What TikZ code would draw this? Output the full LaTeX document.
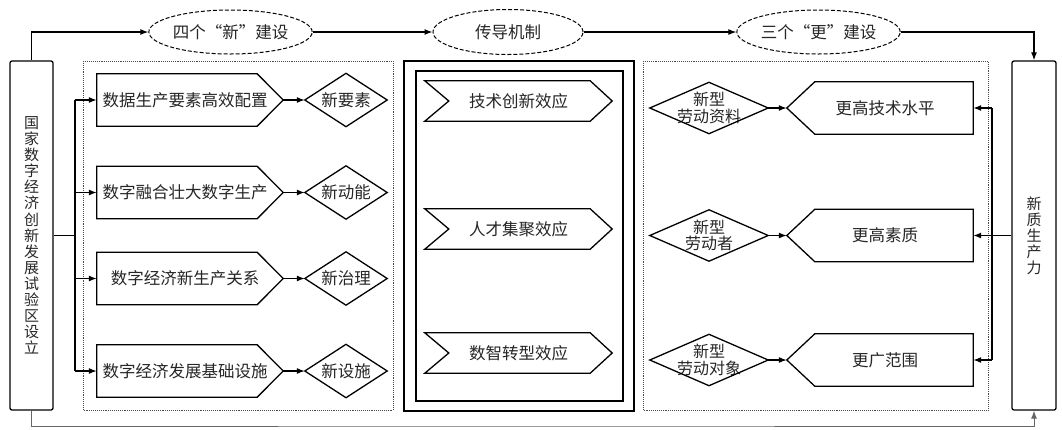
\documentclass[tikz,border=0pt]{standalone}
\usepackage{fontspec}
\setmainfont{Noto Sans CJK SC}
\usetikzlibrary{arrows.meta,shapes.geometric}
\tikzset{
  x=1pt, y=-1pt,
  every node/.style={font=\fontsize{16.5}{17}\selectfont, text=black!85},
  blk/.style 2 args={rectangle, inner sep=0pt, minimum width=#1, minimum height=#2},
  tall/.style={draw, line width=1.3pt, rounded corners=2pt, inner sep=0pt,
    minimum width=43, minimum height=349, align=center,
    font=\fontsize{15}{16.1}\selectfont},
  oval/.style={ellipse, draw, line width=1pt, dash pattern=on 4pt off 2pt,
    inner sep=0pt, minimum width=148, minimum height=44},
  shp/.style={draw, line width=1.3pt, line join=miter},
  frame/.style={draw=black!70, line width=0.9pt, densely dotted},
  conn/.style={draw, line width=1.2pt},
  arr/.style={conn, -{Latex[length=8pt,width=6pt]}},
}
\newcommand\pentRight[2]{\draw[shp] (#1.north west) -- ([xshift=-#2]#1.north east) -- (#1.east) -- ([xshift=-#2]#1.south east) -- (#1.south west) -- cycle;}
\newcommand\pentLeft[2]{\draw[shp] (#1.north east) -- ([xshift=#2]#1.north west) -- (#1.west) -- ([xshift=#2]#1.south west) -- (#1.south east) -- cycle;}
\newcommand\chevR[3]{\draw[shp] (#1.north west) -- ([xshift=-#3]#1.north east) -- (#1.east) -- ([xshift=-#3]#1.south east) -- (#1.south west) -- ([xshift=#2]#1.west) -- cycle;}
\newcommand\dmd[1]{\draw[shp] (#1.north) -- (#1.east) -- (#1.south) -- (#1.west) -- cycle;}
\begin{document}
\begin{tikzpicture}
\useasboundingbox[fill=white] (0,0) rectangle (1062,429);

% frames
\draw[frame] (83,61) rectangle (393,410);
\draw[frame] (643,61) rectangle (988,410);
\draw[shp] (404,61) rectangle (634,411);
\draw[shp] (416,71) rectangle (623,401);

% tall boxes
\node[tall] (L) at (31.5,235.5) {国\\家\\数\\字\\经\\济\\创\\新\\发\\展\\试\\验\\区\\设\\立};
\node[tall, minimum width=44] (R) at (1034,235.5) {新\\质\\生\\产\\力};

% ellipses
\node[oval] (e1) at (230.5,32) {四个“新”建设};
\node[oval, minimum width=150, minimum height=45] (e2) at (508,32) {传导机制};
\node[oval, minimum width=149] (e3) at (818.5,32) {三个“更”建设};

% left pentagons and diamonds
\node[blk={186}{52}] (p1) at (190,100) {数据生产要素高效配置\hspace*{10pt}};
\node[blk={186}{52}] (p2) at (190,192.5) {数字融合壮大数字生产\hspace*{10pt}};
\node[blk={186}{52}] (p3) at (190,278.5) {数字经济新生产关系\hspace*{10pt}};
\node[blk={186}{52}] (p4) at (190,371) {数字经济发展基础设施\hspace*{10pt}};
\foreach \n in {p1,p2,p3,p4} {\pentRight{\n}{26pt}}
\node[blk={82}{53}] (d1) at (346,100) {新要素};
\node[blk={82}{53}] (d2) at (346,192.5) {新动能};
\node[blk={82}{53}] (d3) at (346,278.5) {新治理};
\node[blk={82}{53}] (d4) at (346,371) {新设施};
\foreach \n in {d1,d2,d3,d4} {\dmd{\n}}

% chevrons
\node[blk={187}{40}] (c1) at (518.5,101) {技术创新效应};
\node[blk={187}{40}] (c2) at (518.5,229) {人才集聚效应};
\node[blk={187}{40}] (c3) at (518.5,353) {数智转型效应};
\foreach \n in {c1,c2,c3} {\chevR{\n}{24pt}{22pt}}

% right diamonds and pentagons
\node[blk={118}{51}, align=center, font=\fontsize{16}{16.5}\selectfont] (r1) at (709,108) {新型\\劳动资料};
\node[blk={118}{51}, align=center, font=\fontsize{16}{16.5}\selectfont] (r2) at (709,235.5) {新型\\劳动者};
\node[blk={118}{51}, align=center, font=\fontsize{16}{16.5}\selectfont] (r3) at (709,360) {新型\\劳动对象};
\foreach \n in {r1,r2,r3} {\dmd{\n}}
\node[blk={186}{52}] (q1) at (880,108) {\hspace*{10pt}更高技术水平};
\node[blk={186}{52}] (q2) at (880,235.5) {\hspace*{10pt}更高素质};
\node[blk={186}{52}] (q3) at (880,360) {\hspace*{10pt}更广范围};
\foreach \n in {q1,q2,q3} {\pentLeft{\n}{28pt}}

% top flow
\draw[arr] (L.north) |- (e1.west);
\draw[arr] (e1.east) -- (e2.west);
\draw[arr] (e2.east) -- (e3.west);
\draw[arr] (e3.east) -| (R.north);
% bottom flow
\coordinate (bot) at (520,426);
\draw[arr, draw=black!60, line width=1pt] (L.south) |- (bot) -| (R.south);

% left branching
\coordinate (lj) at (75,235.5);
\draw[conn] (L.east) -- (lj);
\draw[conn] (lj |- p1.west) -- (lj |- p4.west);
\foreach \n in {p1,p2,p3,p4} {\draw[arr] (lj |- \n.west) -- (\n.west);}
\draw[arr] (p1.east) -- (d1.west);
\draw[arr] (p2.east) -- (d2.west);
\draw[arr] (p3.east) -- (d3.west);
\draw[arr] (p4.east) -- (d4.west);

% right branching
\coordinate (rj) at (992,235.5);
\draw[arr] (R.west) -- (q2.east);
\draw[conn] (rj |- q1.east) -- (rj |- q3.east);
\draw[arr] (rj |- q1.east) -- (q1.east);
\draw[arr] (rj |- q3.east) -- (q3.east);
\draw[arr] (r1.east) -- (q1.west);
\draw[arr] (r2.east) -- (q2.west);
\draw[arr] (r3.east) -- (q3.west);
\end{tikzpicture}
\end{document}
